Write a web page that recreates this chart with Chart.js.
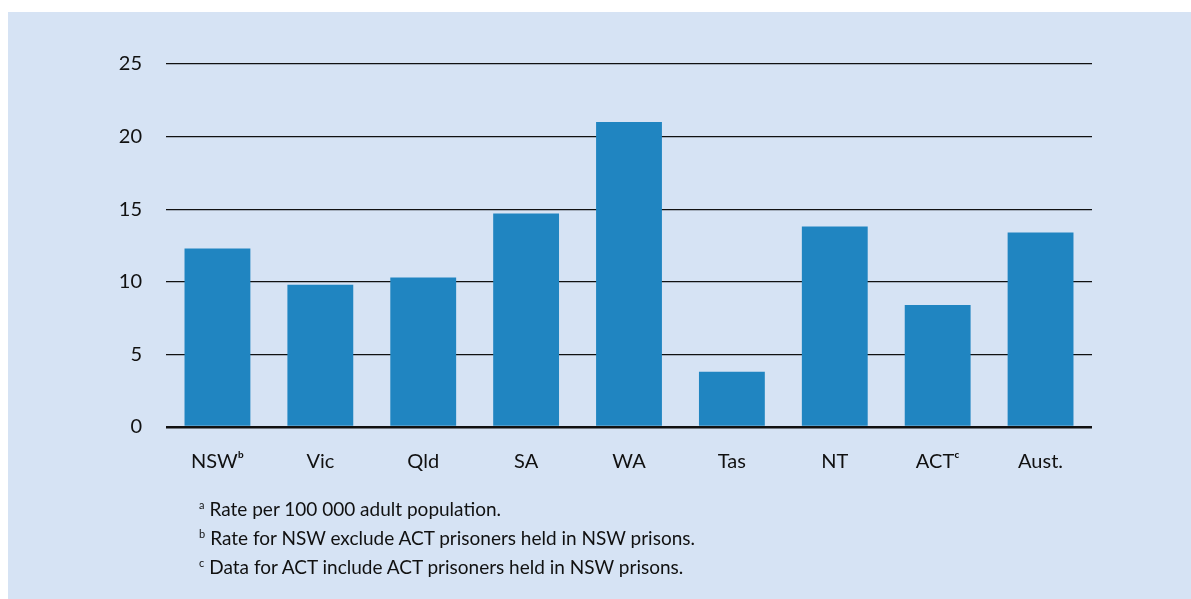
<!DOCTYPE html>
<html>
<head>
<meta charset="utf-8">
<script src="https://cdn.jsdelivr.net/npm/chart.js@4.4.1/dist/chart.umd.min.js"></script>
<style>
  html, body { margin: 0; padding: 0; background: #ffffff; }
  body { width: 1191px; height: 599px; position: relative; overflow: hidden; }
  #panel { position: absolute; left: 8px; top: 12px; width: 1183px; height: 587px; background: #d6e3f4; }
  #chartWrap { position: absolute; left: 0; top: 0; width: 1183px; height: 587px; }
  #notes { position: absolute; left: 191px; top: 482px; font-family: Lato, "Open Sans", sans-serif; font-size: 19px; color: #111; line-height: 29px; }
  #notes div { height: 29px; }
  #notes sup { font-size: 11px; line-height: 0; vertical-align: 7px; margin-right: 5px; }
</style>
</head>
<body>
<div id="panel">
  <div id="chartWrap"><canvas id="c" width="1183" height="587"></canvas></div>
  <div id="notes">
    <div><sup>a</sup>Rate per 100 000 adult population.</div>
    <div><sup>b</sup>Rate for NSW exclude ACT prisoners held in NSW prisons.</div>
    <div><sup>c</sup>Data for ACT include ACT prisoners held in NSW prisons.</div>
  </div>
</div>
<script>
const categories = ["NSWᵇ", "Vic", "Qld", "SA", "WA", "Tas", "NT", "ACTᶜ", "Aust."];
const rates = [12.3, 9.8, 10.3, 14.7, 21.0, 3.8, 13.8, 8.4, 13.4];
const yTicks = [0, 5, 10, 15, 20, 25];

const FONT = 'Lato, "Open Sans", "DejaVu Sans", sans-serif';

new Chart(document.getElementById('c'), {
  type: 'bar',
  data: {
    labels: categories,
    datasets: [{
      data: rates,
      backgroundColor: '#2085c1',
      borderWidth: 0,
      barPercentage: 0.64,
      categoryPercentage: 1.0
    }]
  },
  options: {
    responsive: false,
    animation: false,
    devicePixelRatio: 1,
    layout: { padding: { left: 0, right: 99, top: 52, bottom: 0 } },
    plugins: { legend: { display: false }, tooltip: { enabled: false } },
    scales: {
      x: {
        grid: { display: false, drawTicks: false },
        border: { display: false },
        ticks: { color: '#111', font: { family: FONT, size: 20 }, padding: 23 },
        afterFit: s => { s.height = 172; }
      },
      y: {
        min: 0, max: 25,
        z: 1,
        afterBuildTicks: s => { s.ticks = yTicks.map(v => ({ value: v })); },
        grid: {
          color: '#111',
          lineWidth: ctx => (ctx.tick && ctx.tick.value === 0) ? 2.5 : 1.3,
          drawTicks: false
        },
        border: { display: false },
        ticks: { color: '#111', font: { family: FONT, size: 20 }, padding: 24 },
        afterFit: s => { s.width = 158; }
      }
    }
  }
});
</script>
</body>
</html>
